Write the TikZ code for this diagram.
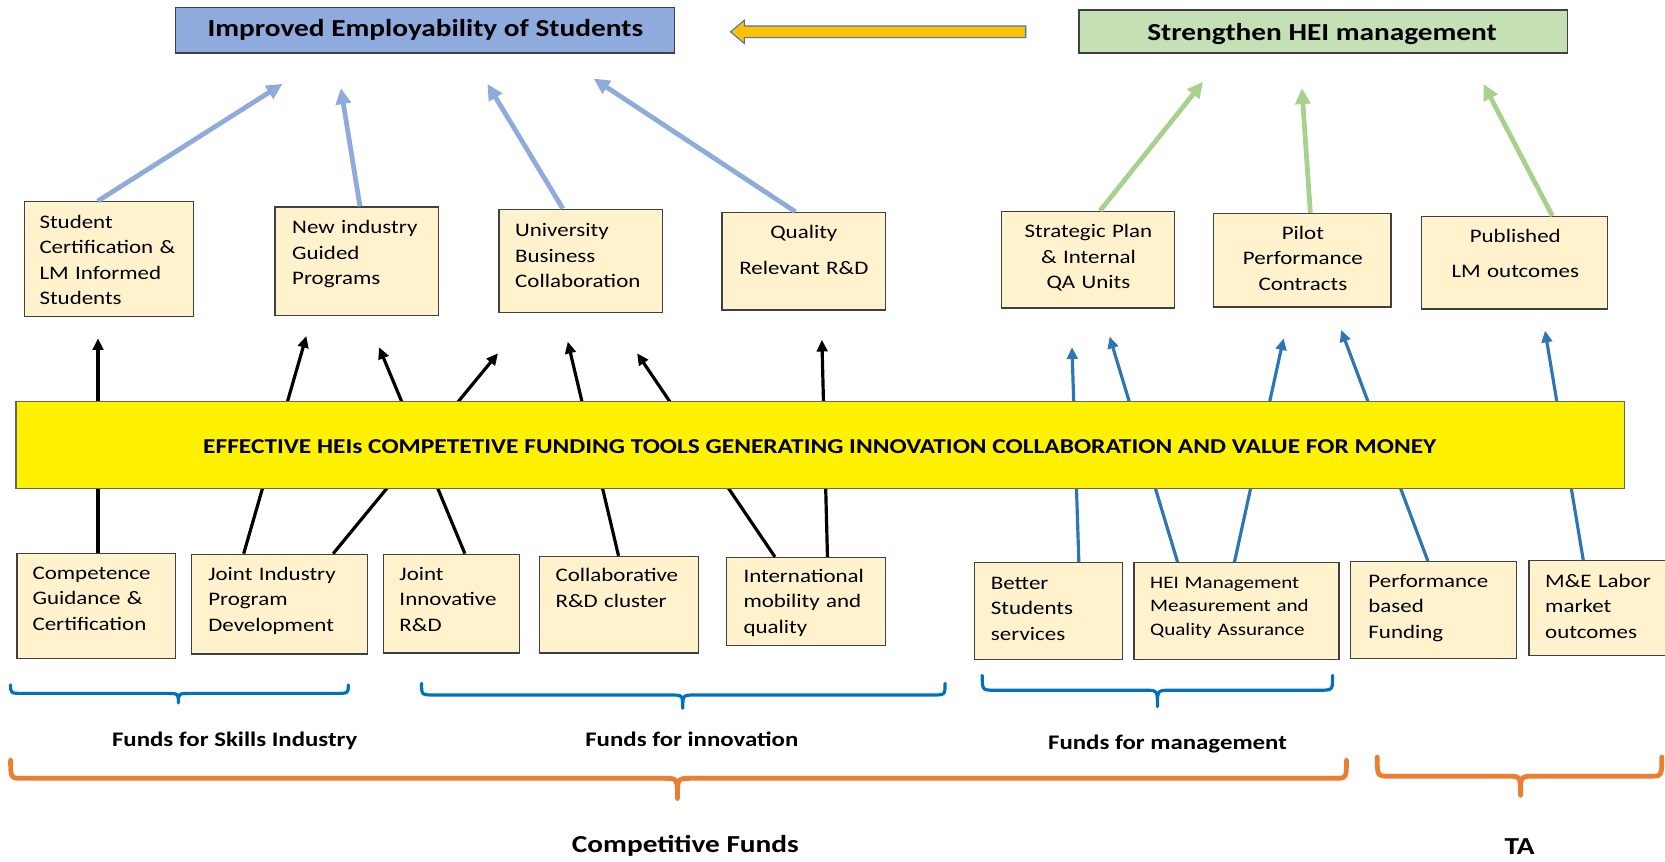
\documentclass[tikz,border=0pt]{standalone}
\usepackage{fontspec}
\setmainfont{Carlito}[FakeStretch=1.2]
\usetikzlibrary{arrows.meta}
\definecolor{cream}{HTML}{FFF2CC}
\definecolor{boxline}{HTML}{404040}
\definecolor{titleblue}{HTML}{8FAADC}
\definecolor{titlegreen}{HTML}{C5E0B4}
\definecolor{lblue}{HTML}{8FAADC}
\definecolor{lgreen}{HTML}{A9D18E}
\definecolor{midblue}{HTML}{2E75B6}
\definecolor{braceblue}{HTML}{0070C0}
\definecolor{braceorange}{HTML}{ED7D31}
\definecolor{arrowyellow}{HTML}{FFC000}
\definecolor{arrowblue}{HTML}{4472C4}
\newcommand\ofbrace[7]{%
  \draw[#7] (#1,#4) .. controls (#1,#5) .. (#1+12,#5) -- (#3-12,#5)
    .. controls (#3,#5) .. (#3,#6) .. controls (#3,#5) .. (#3+12,#5)
    -- (#2-12,#5) .. controls (#2,#5) .. (#2,#4);}
\begin{document}
\begin{tikzpicture}[x=1pt,y=-1pt,
  box/.style={draw=boxline, fill=cream, line width=1.2pt, inner sep=0pt},
  txt/.style={font=\fontsize{18}{24}\selectfont, inner sep=0pt, text=black},
  smalltxt/.style={font=\fontsize{16.5}{22}\selectfont, inner sep=0pt, text=black},
  lbarrow/.style={draw=lblue, line width=4.5pt, -{Triangle[length=15pt,width=14pt]}},
  grarrow/.style={draw=lgreen, line width=4.5pt, -{Triangle[length=15pt,width=14pt]}},
  blkarrow/.style={draw=black, line width=3pt, -{Triangle[length=11pt,width=10pt]}},
  bluarrow/.style={draw=midblue, line width=3pt, -{Triangle[length=11pt,width=10pt]}},
  bluebrace/.style={draw=braceblue, line width=3pt, line cap=round, line join=round},
  orangebrace/.style={draw=braceorange, line width=4.5pt, line cap=round, line join=round},
  lbl/.style={font=\fontsize{19.5}{22}\selectfont\bfseries, inner sep=0pt},
  biglbl/.style={font=\fontsize{23}{26}\selectfont\bfseries, inner sep=0pt}
]
\useasboundingbox (0,0) rectangle (1568,811);

% title boxes
\node[draw=boxline, fill=titleblue, line width=1.2pt, minimum width=470pt, minimum height=43pt, inner sep=0pt] (goal) at (400.5,28.5) {};
\node[biglbl, anchor=base] (goalt) at (400.5,34.5) {Improved Employability of Students};
\node[draw=boxline, fill=titlegreen, line width=1.2pt, minimum width=460pt, minimum height=40.6pt, inner sep=0pt] (hei) at (1246,29.7) {};
\node[biglbl, anchor=base] (heit) at (1245,38.3) {Strengthen HEI management};

% block arrow
\draw[fill=arrowyellow, draw=arrowblue, line width=1pt, line join=miter]
  (966,24.5) -- (701,24.5) -- (701,19) -- (688,30) -- (701,41) -- (701,35.5) -- (966,35.5) -- cycle;

% top boxes
\node[box, minimum width=159pt, minimum height=108pt] (T1) at (102.5,244) {};
\node[txt, anchor=base west, text width=145pt, align=left] (T1t) at (37,215) {Student\\Certification \&\\LM Informed\\Students};
\node[box, minimum width=154pt, minimum height=102pt] (T2) at (336,246) {};
\node[txt, anchor=base west, text width=135pt, align=left] (T2t) at (275,220) {New industry\\Guided\\Programs};
\node[box, minimum width=154pt, minimum height=97pt] (T3) at (547,245.5) {};
\node[txt, anchor=base west, text width=135pt, align=left] (T3t) at (485,223) {University\\Business\\Collaboration};
\node[box, minimum width=154pt, minimum height=92pt] (T4) at (757,246) {};
\node[txt, anchor=base, text width=150pt, align=center] (T4t) at (757,224.5) {Quality\\[10pt]Relevant R\&D};
\node[box, minimum width=163pt, minimum height=91pt] (T5) at (1024.5,244.5) {};
\node[txt, anchor=base, text width=160pt, align=center] (T5t) at (1025,224) {Strategic Plan\\\& Internal\\QA Units};
\node[box, minimum width=167pt, minimum height=88pt] (T6) at (1226.5,245) {};
\node[txt, anchor=base, text width=160pt, align=center] (T6t) at (1227,225.5) {Pilot\\Performance\\Contracts};
\node[box, minimum width=175pt, minimum height=87pt] (T7) at (1426.5,247.5) {};
\node[txt, anchor=base, text width=170pt, align=center] (T7t) at (1427,228.5) {Published\\[9pt]LM outcomes};

% bottom boxes
\node[box, minimum width=149pt, minimum height=99pt] (B1) at (90.5,570.5) {};
\node[txt, anchor=base west, text width=140pt, align=left] (B1t) at (30.5,545.5) {Competence\\Guidance \&\\Certification};
\node[box, minimum width=165.5pt, minimum height=94pt] (B2) at (263.25,569) {};
\node[txt, anchor=base west, text width=150pt, align=left] (B2t) at (196,546.5) {Joint Industry\\Program\\Development};
\node[box, minimum width=128pt, minimum height=93pt] (B3) at (425,568.5) {};
\node[txt, anchor=base west, text width=120pt, align=left] (B3t) at (376,546.5) {Joint\\Innovative\\R\&D};
\node[box, minimum width=150pt, minimum height=91pt] (B4) at (583,569.5) {};
\node[txt, anchor=base west, text width=140pt, align=left] (B4t) at (523,548) {Collaborative\\R\&D cluster};
\node[box, minimum width=149.5pt, minimum height=83pt] (B5) at (759.25,566.5) {};
\node[txt, anchor=base west, text width=140pt, align=left] (B5t) at (700,548.5) {International\\mobility and\\quality};
\node[box, minimum width=139pt, minimum height=91pt] (B6) at (987.5,575.5) {};
\node[txt, anchor=base west, text width=130pt, align=left] (B6t) at (933,555) {Better\\Students\\services};
\node[box, minimum width=193pt, minimum height=91pt] (B7) at (1164.5,575.5) {};
\node[smalltxt, anchor=base west, text width=185pt, align=left] (B7t) at (1083,554) {HEI Management\\Measurement and\\Quality Assurance};
\node[box, minimum width=156pt, minimum height=91pt] (B8) at (1350,574.5) {};
\node[txt, anchor=base west, text width=150pt, align=left] (B8t) at (1288.5,553) {Performance\\based\\Funding};
\node[box, minimum width=130pt, minimum height=89pt] (B9) at (1505,572.5) {};
\node[txt, anchor=base west, text width=120pt, align=left] (B9t) at (1455,553) {M\&E Labor\\market\\outcomes};

% free arrow ends
\coordinate (a1e) at (266,79);
\coordinate (a2e) at (321,83);
\coordinate (a3e) at (459,79);
\coordinate (a4e) at (559,74);
\coordinate (g1e) at (1133,77);
\coordinate (g2e) at (1226,83);
\coordinate (g3e) at (1397,79);
\coordinate (k1e) at (92.3,318.6);
\coordinate (k2e) at (288.5,316.4);
\coordinate (k3e) at (469,332.7);
\coordinate (k4e) at (357,327);
\coordinate (k5e) at (534.7,321.8);
\coordinate (k6e) at (600,332.7);
\coordinate (k7e) at (774,320);
\coordinate (u1e) at (1009.5,327);
\coordinate (u2e) at (1045,317);
\coordinate (u3e) at (1208.8,318.6);
\coordinate (u4e) at (1263,310.8);
\coordinate (u5e) at (1455,311.4);

% upper arrows
\draw[lbarrow] ([xshift=-10.5pt]T1.north) -- (a1e);
\draw[lbarrow] ([xshift=3pt]T2.north) -- (a2e);
\draw[lbarrow] ([xshift=-17pt]T3.north) -- (a3e);
\draw[lbarrow] ([xshift=-8pt]T4.north) -- (a4e);
\draw[grarrow] ([xshift=11.5pt]T5.north) -- (g1e);
\draw[grarrow] ([xshift=7.5pt]T6.north) -- (g2e);
\draw[grarrow] ([xshift=35.5pt]T7.north) -- (g3e);

% lower arrows
\draw[blkarrow] ([xshift=1.8pt]B1.north) -- (k1e);
\draw[blkarrow] ([xshift=-33.75pt]B2.north) -- (k2e);
\draw[blkarrow] ([xshift=50.5pt]B2.north) -- (k3e);
\draw[blkarrow] ([xshift=12.8pt]B3.north) -- (k4e);
\draw[blkarrow] ([xshift=-0.5pt]B4.north) -- (k5e);
\draw[blkarrow] ([xshift=-29.5pt]B5.north) -- (k6e);
\draw[blkarrow] ([xshift=20pt]B5.north) -- (k7e);
\draw[bluarrow] ([xshift=28.5pt]B6.north) -- (u1e);
\draw[bluarrow] ([xshift=-55.5pt]B7.north) -- (u2e);
\draw[bluarrow] ([xshift=-2pt]B7.north) -- (u3e);
\draw[bluarrow] ([xshift=-5.3pt]B8.north) -- (u4e);
\draw[bluarrow] ([xshift=-14pt]B9.north) -- (u5e);

% banner
\node[draw=boxline!80, fill=yellow, line width=1.2pt, minimum width=1515pt, minimum height=82pt, inner sep=0pt] (banner) at (772.5,419) {};
\node[font=\fontsize{19.95}{22}\selectfont\bfseries, inner sep=0pt, anchor=base] (bannert) at (772,427.5) {EFFECTIVE HEIs COMPETETIVE FUNDING TOOLS GENERATING INNOVATION COLLABORATION AND VALUE FOR MONEY};

% braces
\ofbrace{10}{328}{168}{645}{653}{662}{bluebrace}
\ofbrace{397}{890}{643}{643.5}{654.5}{667}{bluebrace}
\ofbrace{925}{1255}{1090}{636}{650}{665.5}{bluebrace}
\ofbrace{10}{1268}{638}{716}{733}{752}{orangebrace}
\ofbrace{1297}{1565}{1432}{713}{731}{749}{orangebrace}

% labels
\node[lbl, anchor=base] (f1) at (221,703) {Funds for Skills Industry};
\node[lbl, anchor=base] (f2) at (651.5,703) {Funds for innovation};
\node[lbl, anchor=base] (f3) at (1099.5,705.6) {Funds for management};
\node[biglbl, anchor=base] (cf) at (645.5,803) {Competitive Funds};
\node[biglbl, anchor=base] (ta) at (1431,805) {TA};
\end{tikzpicture}
\end{document}
